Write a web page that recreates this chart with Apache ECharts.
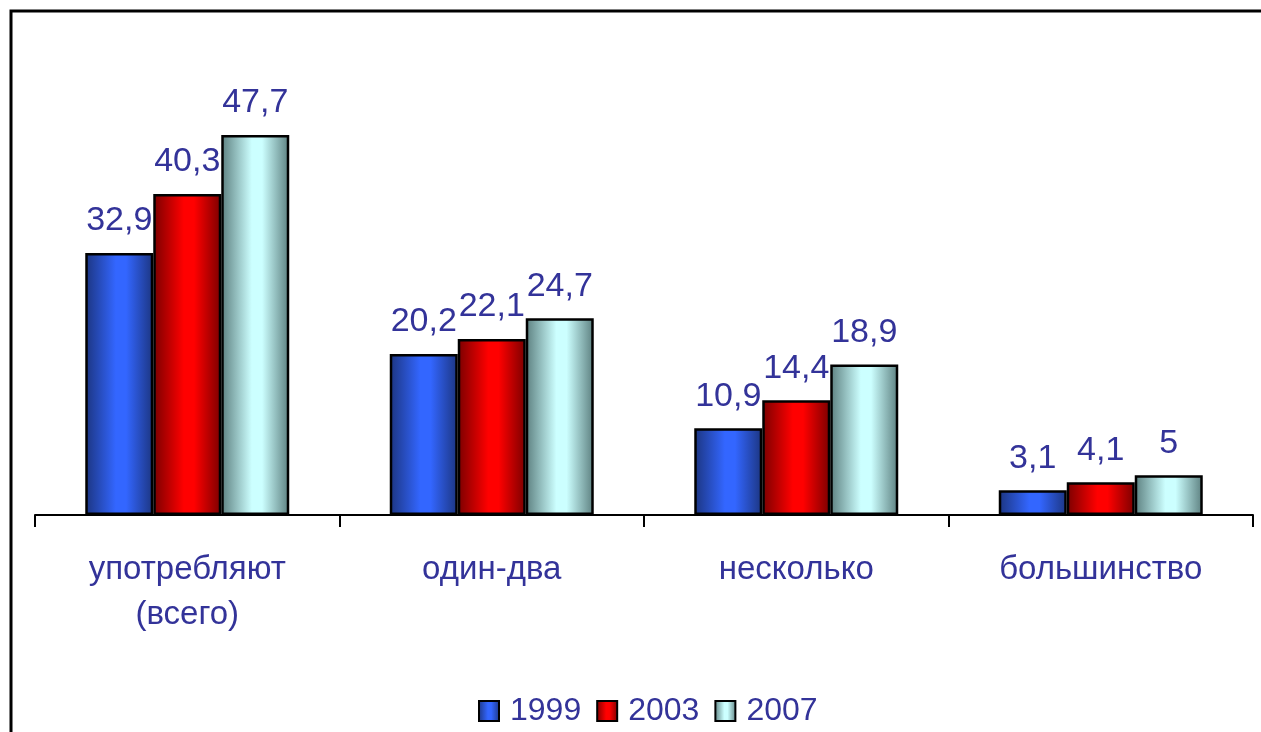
<!DOCTYPE html>
<html>
<head>
<meta charset="utf-8">
<script src="https://cdn.jsdelivr.net/npm/echarts@6/dist/echarts.min.js"></script>
<style>
  html, body { margin: 0; padding: 0; background: #fff; }
  #chart { width: 1261px; height: 732px; }
</style>
</head>
<body>
<div id="chart"></div>
<script>
// data
var categories = ["употребляют\n(всего)", "один-два", "несколько", "большинство"];
var years = ["1999", "2003", "2007"];
var v1999 = [32.9, 20.2, 10.9, 3.1];
var v2003 = [40.3, 22.1, 14.4, 4.1];
var v2007 = [47.7, 24.7, 18.9, 5];

var textColor = "#333399";

// cylinder-like horizontal gradient
function grad(edge, mid) {
  return new echarts.graphic.LinearGradient(0, 0, 1, 0, [
    { offset: 0, color: edge },
    { offset: 0.45, color: mid },
    { offset: 0.6, color: mid },
    { offset: 1, color: edge }
  ]);
}

var colors = [
  grad("#1c3580", "#3366ff"),
  grad("#7a0000", "#ff0000"),
  grad("#5c7f7f", "#ccffff")
];
var seriesData = [v1999, v2003, v2007];

var chart = echarts.init(document.getElementById("chart"));

var option = {
  backgroundColor: "#fff",
  animation: false,
  textStyle: { fontFamily: "Liberation Sans, Arial, sans-serif" },
  graphic: [
    {
      type: "rect",
      shape: { x: 11, y: 11, width: 1300, height: 800 },
      style: { fill: "none", stroke: "#000", lineWidth: 3 },
      silent: true
    }
  ],
  grid: { left: 35, right: 8, top: 37, height: 478 },
  legend: {
    top: 690,
    left: 473,
    icon: "rect",
    itemWidth: 20,
    itemHeight: 20,
    itemGap: 15,
    textStyle: { color: textColor, fontSize: 32, padding: [0, 0, 0, 6] },
    data: years
  },
  xAxis: {
    type: "category",
    data: categories,
    axisLine: { show: true, lineStyle: { color: "#000", width: 2 } },
    axisTick: { show: true, length: 12, lineStyle: { color: "#000", width: 2 } },
    axisLabel: {
      color: textColor,
      fontSize: 33,
      lineHeight: 45,
      margin: 32
    }
  },
  yAxis: {
    type: "value",
    min: 0,
    max: 60,
    show: false,
    splitLine: { show: false }
  },
  series: years.map(function (y, i) {
    return {
      name: y,
      type: "bar",
      data: seriesData[i],
      barWidth: 68,
      barGap: "0%",
      itemStyle: {
        color: colors[i],
        borderColor: "#000",
        borderWidth: 2.5
      },
      label: {
        show: true,
        position: "top",
        distance: 15,
        color: textColor,
        fontSize: 34,
        formatter: function (p) {
          return String(p.value).replace(".", ",");
        }
      }
    };
  })
};

chart.setOption(option);
window.addEventListener("resize", function () {
  chart.resize();
});
</script>
</body>
</html>
